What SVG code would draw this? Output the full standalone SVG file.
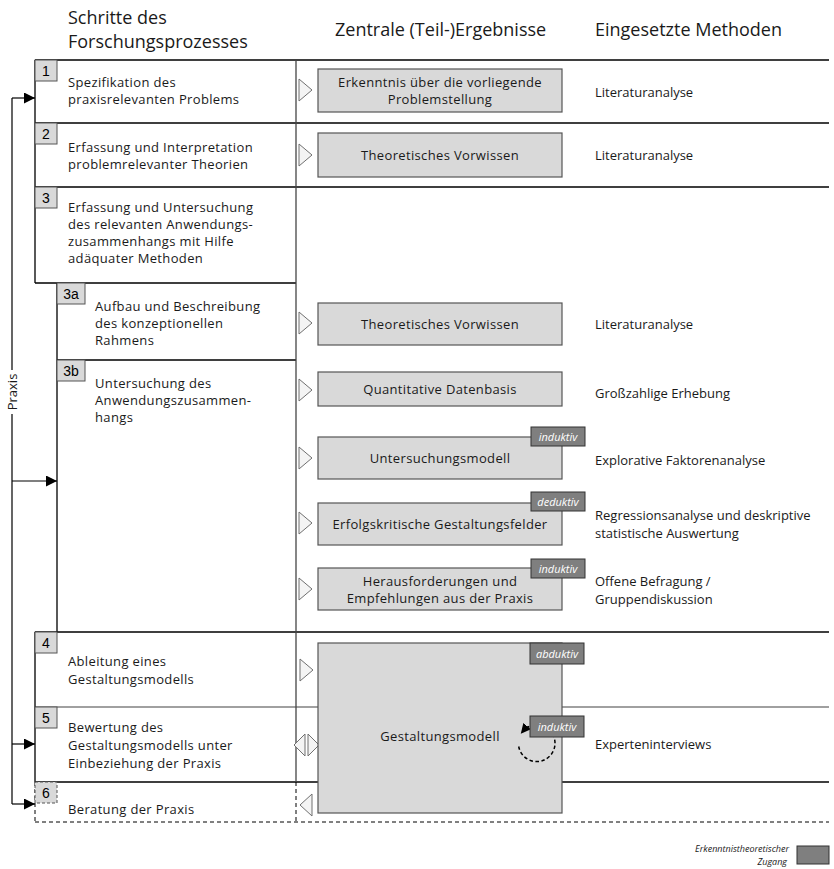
<svg xmlns="http://www.w3.org/2000/svg" width="834" height="869" viewBox="0 0 834 869">
<defs>
<marker id="ah" markerWidth="11" markerHeight="11" refX="11" refY="5.5" orient="auto" markerUnits="userSpaceOnUse"><path d="M0,0 L11,5.5 L0,11 Z" fill="#000"/></marker>
<marker id="ah2" markerWidth="10" markerHeight="10" refX="7" refY="5" orient="auto" markerUnits="userSpaceOnUse"><path d="M0,0 L10,5 L0,10 Z" fill="#000"/></marker>
<style>
.t{font-family:"Open Sans","Noto Sans",sans-serif;font-size:13px;letter-spacing:0.35px;fill:#1a1a1a}
.m{font-family:"Open Sans","Noto Sans",sans-serif;font-size:13px;fill:#1a1a1a}
.h{font-family:"Open Sans","Noto Sans",sans-serif;font-size:18px;fill:#1a1a1a}
.c{text-anchor:middle}
.n{font-family:"Liberation Sans",Arial,sans-serif;font-size:14px;fill:#000;text-anchor:middle}
.nb{fill:#d9d9d9;stroke:#555;stroke-width:1}
.rb{fill:#d9d9d9;stroke:#555;stroke-width:1.2}
.tg{fill:#7f7f7f;stroke:#333;stroke-width:1}
.tt{font-family:"Open Sans","Noto Sans",sans-serif;font-size:11px;font-style:italic;fill:#fff;text-anchor:middle}
.lg{font-family:"Open Sans","Noto Sans",sans-serif;font-size:9px;font-style:italic;fill:#1a1a1a;text-anchor:end}
.ln{stroke:#000;stroke-width:1.3;fill:none}
.dv{stroke:#444;stroke-width:1.3;fill:none}
.dl{stroke:#000;stroke-width:1;stroke-dasharray:4 3;fill:none}
.tri{fill:#f4f4f4;stroke:#707070;stroke-width:1}
.fb{stroke:#000;stroke-width:1.2;fill:none}
</style>
</defs>
<rect x="0" y="0" width="834" height="869" fill="#fff"/>

<g id="headers">
<text class="h" x="68" y="24">Schritte des</text>
<text class="h" x="68" y="48">Forschungsprozesses</text>
<text class="h" x="335" y="36">Zentrale (Teil-)Ergebnisse</text>
<text class="h" x="595" y="36">Eingesetzte Methoden</text>
</g>

<g id="grid">
<path class="ln" d="M35 60 H829 M35 123 H829 M35 187 H829 M35 283 H296 M57 360 H296 M35 632 H829 M35 782 H829"/>
<path d="M35 707 H829" stroke="#808080" stroke-width="1.6" fill="none"/>
<path class="ln" d="M35 60 V283 M57 283 V632 M35 632 V782"/>
<path class="dv" d="M296 60 V782"/>
<path class="dl" d="M35 822 H829 M35 782 V822 M296 782 V822"/>
</g>

<g id="step1">
<rect class="nb" x="35" y="60" width="22" height="21"/><text class="n" x="46" y="76">1</text>
<text class="t" x="68" y="87">Spezifikation des</text>
<text class="t" x="68" y="104">praxisrelevanten Problems</text>
</g>
<g id="step2">
<rect class="nb" x="35" y="123" width="22" height="21"/><text class="n" x="46" y="139">2</text>
<text class="t" x="68" y="152">Erfassung und Interpretation</text>
<text class="t" x="68" y="169">problemrelevanter Theorien</text>
</g>
<g id="step3">
<rect class="nb" x="35" y="187" width="22" height="21"/><text class="n" x="46" y="203">3</text>
<text class="t" x="68" y="212">Erfassung und Untersuchung</text>
<text class="t" x="68" y="229">des relevanten Anwendungs-</text>
<text class="t" x="68" y="246">zusammenhangs mit Hilfe</text>
<text class="t" x="68" y="263">adäquater Methoden</text>
</g>
<g id="step3a">
<rect class="nb" x="57" y="283" width="28" height="21"/><text class="n" x="71" y="299">3a</text>
<text class="t" x="95" y="311">Aufbau und Beschreibung</text>
<text class="t" x="95" y="328">des konzeptionellen</text>
<text class="t" x="95" y="345">Rahmens</text>
</g>
<g id="step3b">
<rect class="nb" x="57" y="360" width="28" height="21"/><text class="n" x="71" y="376">3b</text>
<text class="t" x="95" y="388">Untersuchung des</text>
<text class="t" x="95" y="405">Anwendungszusammen-</text>
<text class="t" x="95" y="422">hangs</text>
</g>
<g id="step4">
<rect class="nb" x="35" y="632" width="22" height="21"/><text class="n" x="46" y="648">4</text>
<text class="t" x="68" y="666">Ableitung eines</text>
<text class="t" x="68" y="684">Gestaltungsmodells</text>
</g>
<g id="step5">
<rect class="nb" x="35" y="707" width="22" height="21"/><text class="n" x="46" y="723">5</text>
<text class="t" x="68" y="732">Bewertung des</text>
<text class="t" x="68" y="750">Gestaltungsmodells unter</text>
<text class="t" x="68" y="768">Einbeziehung der Praxis</text>
</g>
<g id="step6">
<rect x="35" y="782" width="22" height="21" fill="#d9d9d9" stroke="#555" stroke-dasharray="3 2"/><text class="n" x="46" y="798">6</text>
<text class="t" x="68" y="814">Beratung der Praxis</text>
</g>

<g id="connectors">
<path class="fb" d="M12 98 V370 M12 414 V804"/>
<path class="fb" d="M12 98 H35" marker-end="url(#ah)"/>
<path class="fb" d="M12 481 H57" marker-end="url(#ah)"/>
<path class="fb" d="M12 744 H35" marker-end="url(#ah)"/>
<path class="fb" d="M12 804 H35" marker-end="url(#ah)"/>
<text class="m" transform="translate(17,392) rotate(-90)" text-anchor="middle">Praxis</text>
<path class="tri" d="M299 79 L312 90 L299 101 Z"/>
<path class="tri" d="M299 144 L312 155 L299 166 Z"/>
<path class="tri" d="M299 312 L312 323 L299 334 Z"/>
<path class="tri" d="M299 379 L312 390 L299 401 Z"/>
<path class="tri" d="M299 447 L312 458 L299 469 Z"/>
<path class="tri" d="M299 512 L312 523 L299 534 Z"/>
<path class="tri" d="M299 578 L312 589 L299 600 Z"/>
<path class="tri" d="M300 659 L313 670 L300 681 Z"/>
<path class="tri" d="M305 734 L294 745 L305 756 Z"/>
<path class="tri" d="M308 734 L319 745 L308 756 Z"/>
<path class="tri" d="M312 794 L300 805 L312 816 Z"/>
</g>

<g id="r1"><rect class="rb" x="318" y="69" width="244" height="43"/>
<text class="t c" x="440" y="87">Erkenntnis über die vorliegende</text>
<text class="t c" x="440" y="104">Problemstellung</text></g>
<g id="r2"><rect class="rb" x="318" y="133" width="244" height="44"/>
<text class="t c" x="440" y="160">Theoretisches Vorwissen</text></g>
<g id="r3a"><rect class="rb" x="318" y="303" width="244" height="42"/>
<text class="t c" x="440" y="329">Theoretisches Vorwissen</text></g>
<g id="r3b1"><rect class="rb" x="318" y="372" width="244" height="34"/>
<text class="t c" x="440" y="394">Quantitative Datenbasis</text></g>
<g id="r3b2"><rect class="rb" x="318" y="437" width="244" height="42"/>
<text class="t c" x="440" y="463">Untersuchungsmodell</text>
<rect class="tg" x="531" y="427" width="54" height="19"/><text class="tt" x="558" y="440.5">induktiv</text></g>
<g id="r3b3"><rect class="rb" x="318" y="503" width="244" height="42"/>
<text class="t c" x="440" y="529">Erfolgskritische Gestaltungsfelder</text>
<rect class="tg" x="531" y="492" width="54" height="19"/><text class="tt" x="558" y="505.5">deduktiv</text></g>
<g id="r3b4"><rect class="rb" x="318" y="568" width="244" height="42"/>
<text class="t c" x="440" y="586">Herausforderungen und</text>
<text class="t c" x="440" y="603">Empfehlungen aus der Praxis</text>
<rect class="tg" x="531" y="559" width="54" height="19"/><text class="tt" x="558" y="572.5">induktiv</text></g>
<g id="r4"><rect class="rb" x="318" y="643" width="244" height="170"/>
<text class="t c" x="440" y="741">Gestaltungsmodell</text>
<rect class="tg" x="530" y="643" width="54" height="21"/><text class="tt" x="557" y="657.5">abduktiv</text>
<path d="M518.7 746.5 A18.3 18.3 0 1 0 522.7 731.5" stroke="#000" stroke-width="1.5" fill="none" stroke-dasharray="3.5 2.5" marker-end="url(#ah2)"/>
<rect class="tg" x="530" y="716" width="54" height="21"/><text class="tt" x="557" y="730.5">induktiv</text></g>

<g id="methods">
<text class="m" x="595" y="97">Literaturanalyse</text>
<text class="m" x="595" y="160">Literaturanalyse</text>
<text class="m" x="595" y="329">Literaturanalyse</text>
<text class="m" x="595" y="398">Großzahlige Erhebung</text>
<text class="m" x="595" y="465">Explorative Faktorenanalyse</text>
<text class="m" x="595" y="520">Regressionsanalyse und deskriptive</text>
<text class="m" x="595" y="538">statistische Auswertung</text>
<text class="m" x="595" y="586">Offene Befragung /</text>
<text class="m" x="595" y="604">Gruppendiskussion</text>
<text class="m" x="595" y="749">Experteninterviews</text>
</g>

<g id="legend">
<text class="lg" x="789" y="852">Erkenntnistheoretischer</text>
<text class="lg" x="787" y="865">Zugang</text>
<rect class="tg" x="797" y="846" width="32" height="18"/>
</g>
</svg>
